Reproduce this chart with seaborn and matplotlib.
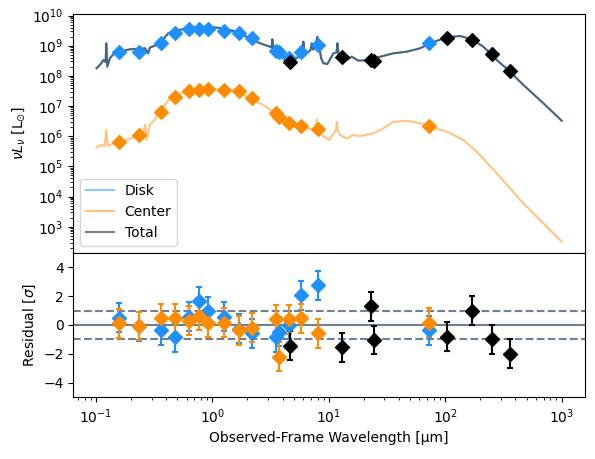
import numpy as np
import matplotlib
matplotlib.use('Agg')
import matplotlib.pyplot as plt
import matplotlib.ticker as mticker
import seaborn as sns

# ---- model curves (wavelength in micron, nuL_nu in L_sun) ----
total_wave = [0.101, 0.108, 0.116, 0.121, 0.1225, 0.125, 0.132, 0.145, 0.195, 0.264,
              0.280, 0.291, 0.330, 0.364, 0.416, 0.459, 0.597, 0.887, 1.233, 1.603,
              2.089, 2.564, 3.126, 3.221, 3.273, 3.334, 3.565, 4.345, 4.797, 5.470,
              5.943, 6.039, 6.180, 6.457, 6.966, 7.129, 7.311, 7.603, 7.962, 8.241,
              8.570, 8.974, 9.705, 10.94, 11.64, 11.83, 12.11, 12.47, 14.26, 15.74,
              17.91, 22.59, 27.54, 35.81, 46.67, 60.81, 73.96, 103.0, 134.0, 169.0,
              212.3, 276.7, 360.6, 468.8, 696.6, 1000.0]
total_lum = [1.78e8, 2.29e8, 3.35e8, 2.88e8, 1.20e9, 2.01e8, 3.90e8, 5.85e8, 7.59e8, 8.18e8,
             5.58e8, 8.69e8, 1.05e9, 1.36e9, 2.57e9, 2.90e9, 3.77e9, 4.26e9, 3.77e9, 2.90e9,
             1.75e9, 1.20e9, 9.25e8, 8.69e8, 1.63e9, 8.05e8, 6.31e8, 3.81e8, 2.94e8, 4.31e8,
             6.17e8, 1.36e9, 5.50e8, 5.58e8, 7.18e8, 1.20e9, 7.46e8, 8.18e8, 1.98e9, 1.05e9,
             3.90e8, 2.61e8, 2.47e8, 5.58e8, 5.94e8, 1.20e9, 5.30e8, 4.91e8, 3.35e8, 4.31e8,
             3.18e8, 3.35e8, 4.31e8, 5.58e8, 6.31e8, 8.18e8, 1.20e9, 1.89e9, 2.09e9, 1.63e9,
             9.25e8, 3.35e8, 1.37e8, 4.97e7, 1.23e7, 3.26e6]
# disk model lies under the total curve everywhere
disk_wave = total_wave
disk_lum = total_lum

center_wave = [0.101, 0.111, 0.119, 0.1225, 0.126, 0.131, 0.160, 0.201, 0.245, 0.258,
               0.264, 0.272, 0.289, 0.319, 0.364, 0.430, 0.490, 0.638, 0.887, 1.233,
               1.660, 2.089, 2.735, 3.334, 4.345, 5.662, 7.362, 7.691, 7.870, 8.072,
               8.690, 10.09, 10.94, 11.53, 11.70, 11.89, 12.47, 14.26, 16.22, 18.54,
               24.10, 29.38, 35.81, 46.67, 60.81, 72.95, 103.0, 143.2, 186.6, 276.7,
               468.8, 696.6, 1000.0]
center_lum = [4.28e5, 5.11e5, 4.73e5, 1.60e6, 4.73e5, 5.11e5, 6.56e5, 8.51e5, 1.09e6, 1.60e6,
              2.35e6, 7.46e5, 2.35e6, 3.44e6, 7.38e6, 1.80e7, 2.32e7, 3.40e7, 3.86e7, 3.40e7,
              2.98e7, 1.80e7, 1.08e7, 6.47e6, 3.02e6, 2.17e6, 1.60e6, 1.49e6, 3.62e6, 1.60e6,
              1.09e6, 7.46e5, 1.24e6, 1.60e6, 3.02e6, 1.60e6, 1.09e6, 8.51e5, 1.09e6, 1.01e6,
              1.24e6, 1.82e6, 3.02e6, 3.26e6, 2.67e6, 2.17e6, 1.41e6, 7.46e5, 3.06e5, 5.89e4,
              5.96e3, 1.29e3, 318.0]

# ---- photometry ----
phot_wave = [0.158, 0.235, 0.36, 0.48, 0.63, 0.77, 0.92, 1.26, 1.69, 2.2,
             3.5, 3.7, 4.55, 5.8, 8.1, 73.0]
disk_phot = [6.3e8, 6.3e8, 1.2e9, 2.69e9, 3.57e9, 3.65e9, 3.65e9, 3.13e9, 2.69e9, 1.75e9,
             6.8e8, 6.2e8, 3.9e8, 6.0e8, 1.08e9, 1.2e9]
center_phot = [6.3e5, 1.09e6, 6.5e6, 2.04e7, 3.2e7, 3.4e7, 3.6e7, 3.4e7, 3.1e7, 1.8e7,
               5.9e6, 4.3e6, 2.84e6, 2.13e6, 1.69e6, 2.17e6]
total_phot_wave = [4.65, 13.0, 23.0, 24.5, 104.0, 170.0, 252.0, 360.0]
total_phot = [2.9e8, 4.1e8, 3.35e8, 3.2e8, 1.75e9, 1.5e9, 5.3e8, 1.48e8]

# ---- residuals [sigma] ----
disk_resid = [0.5, -0.1, -0.35, -0.85, 0.57, 1.66, 0.97, 0.57, -0.25, -0.58,
              -0.85, -0.46, 0.0, 2.07, 2.74, -0.35]
center_resid = [0.12, -0.07, 0.46, 0.46, 0.28, 0.65, 0.16, 0.16, -0.35, -0.19,
                0.39, -2.19, 0.39, 0.46, -0.58, 0.16]
total_resid = [-1.43, -1.54, 1.31, -1.04, -0.81, 0.99, -0.99, -2.0]

fig = plt.figure(figsize=(5.95, 4.59), dpi=100)
ax1 = fig.add_axes([0.1232, 0.4495, 0.860, 0.520])
ax2 = fig.add_axes([0.1232, 0.1344, 0.860, 0.3151], sharex=ax1)

# top panel: SED
sns.lineplot(x=disk_wave, y=disk_lum, ax=ax1, color='dodgerblue', alpha=0.5,
             lw=1.5, sort=False, estimator=None, label='Disk')
sns.lineplot(x=center_wave, y=center_lum, ax=ax1, color='darkorange', alpha=0.5,
             lw=1.5, sort=False, estimator=None, label='Center')
sns.lineplot(x=total_wave, y=total_lum, ax=ax1, color='black', alpha=0.5,
             lw=1.5, sort=False, estimator=None, label='Total')
for w, l, c in [(phot_wave, disk_phot, 'dodgerblue'),
                (phot_wave, center_phot, 'darkorange'),
                (total_phot_wave, total_phot, 'black')]:
    sns.scatterplot(x=w, y=l, ax=ax1, marker='D', s=49, color=c,
                    edgecolor=c, linewidth=1, zorder=3)

ax1.set_xscale('log')
ax1.set_yscale('log')
ax1.set_xlim(10**-1.195, 10**3.2)
ax1.set_ylim(10**2.14, 10**10.05)
ax1.yaxis.set_major_locator(mticker.LogLocator(base=10, numticks=20))
ax1.yaxis.set_minor_locator(mticker.LogLocator(base=10, subs=np.arange(2, 10), numticks=100))
ax1.yaxis.set_minor_formatter(mticker.NullFormatter())
ax1.set_ylabel(r'$\nu L_\nu$ [L$_{\odot}$]')
ax1.set_xlabel('')
ax1.tick_params(labelbottom=False)
ax1.legend(loc='lower left')

# bottom panel: residuals
ax2.axhline(0, color='slategray', lw=1.5)
ax2.axhline(1, color='slategray', lw=1.5, ls='--')
ax2.axhline(-1, color='slategray', lw=1.5, ls='--')
for w, r, c in [(phot_wave, disk_resid, 'dodgerblue'),
                (phot_wave, center_resid, 'darkorange'),
                (total_phot_wave, total_resid, 'black')]:
    ax2.errorbar(w, r, yerr=1, fmt='D', color=c, ms=7, capsize=2,
                 elinewidth=1.5, capthick=1.5)
ax2.set_ylim(-5, 5)
ax2.set_yticks([-4, -2, 0, 2, 4])
ax2.set_ylabel(r'Residual [$\sigma$]')
ax2.set_xlabel('Observed-Frame Wavelength [µm]')

fig.savefig('out.png', dpi=100)
